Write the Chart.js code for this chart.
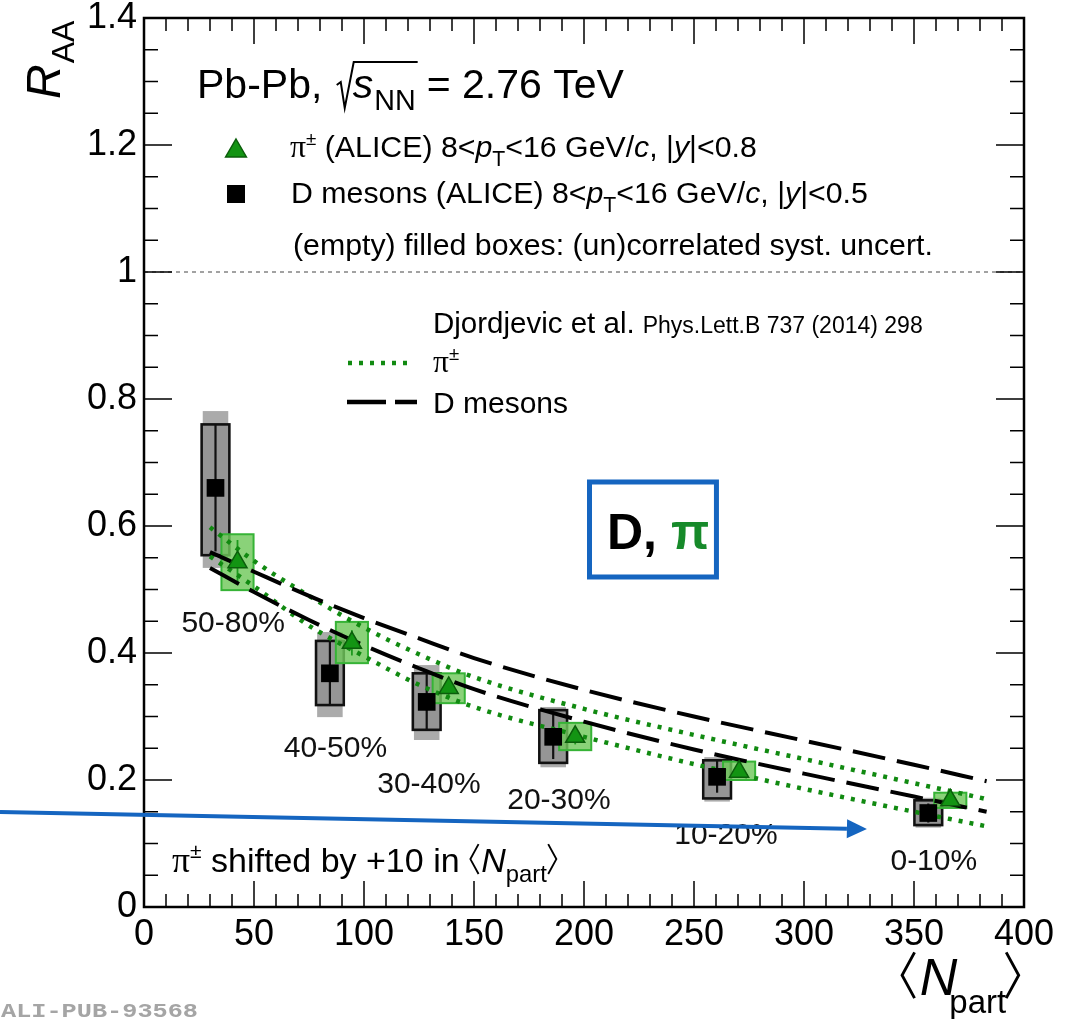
<!DOCTYPE html>
<html><head><meta charset="utf-8">
<style>html,body{margin:0;padding:0;background:#fff}canvas{display:block}</style>
<script src="https://cdn.jsdelivr.net/npm/chart.js@4.4.1/dist/chart.umd.min.js"></script>
</head><body>
<canvas id="c" width="1074" height="1019" style="width:1074px;height:1019px"></canvas>
<script>
// ---------------- data ----------------
const centralityLabels = ['50-80%', '40-50%', '30-40%', '20-30%', '10-20%', '0-10%'];
const dNpart      = [32.5, 84.5, 128.5, 186, 260.5, 356.5];
const dRaa        = [0.660, 0.368, 0.323, 0.268, 0.205, 0.148];
const dStatErr    = [0.100, 0.050, 0.045, 0.035, 0.025, 0.015];
const dCorrLow    = [0.554, 0.318, 0.279, 0.227, 0.171, 0.129];
const dCorrHigh   = [0.760, 0.419, 0.368, 0.310, 0.231, 0.168];
const dUncorrLow  = [0.534, 0.299, 0.263, 0.220, 0.166, 0.125];
const dUncorrHigh = [0.781, 0.433, 0.381, 0.315, 0.236, 0.172];
const piNpart     = [42.5, 94.5, 138.5, 196, 270.5, 366.5];   // shifted by +10
const piRaa       = [0.543, 0.416, 0.345, 0.268, 0.213, 0.168];
const piStatErr   = [0.035, 0.020, 0.015, 0.012, 0.010, 0.008];
const piSystLow   = [0.499, 0.384, 0.321, 0.247, 0.200, 0.156];
const piSystHigh  = [0.587, 0.449, 0.368, 0.290, 0.229, 0.180];
const theoryNpart = [30, 50, 75, 100, 125, 150, 200, 250, 300, 350, 383];
const dTheoryHigh = [0.559, 0.528, 0.490, 0.455, 0.423, 0.392, 0.342, 0.300, 0.262, 0.224, 0.198];
const dTheoryLow  = [0.534, 0.496, 0.452, 0.412, 0.376, 0.343, 0.292, 0.248, 0.210, 0.174, 0.150];
const piTheoryHigh= [0.598, 0.545, 0.490, 0.440, 0.398, 0.362, 0.312, 0.271, 0.233, 0.195, 0.170];
const piTheoryLow = [0.552, 0.505, 0.443, 0.395, 0.350, 0.315, 0.268, 0.225, 0.186, 0.150, 0.127];
const xTickValues = [0, 50, 100, 150, 200, 250, 300, 350, 400];
const xTickLabels = ['0', '50', '100', '150', '200', '250', '300', '350', '400'];
const yTickValues = [0, 0.2, 0.4, 0.6, 0.8, 1.0, 1.2, 1.4];
const yTickLabels = ['0', '0.2', '0.4', '0.6', '0.8', '1', '1.2', '1.4'];

// ---------------- styling helpers ----------------
const SANS = '"Liberation Sans", Arial, Helvetica, sans-serif';
const SERIF = '"Liberation Serif", "Times New Roman", serif';
const GREEN_DOT = '#118a11';
const BLUE = '#1565c0';

function xy(xs, ys) { return xs.map((x, i) => ({ x: x, y: ys[i] })); }

function drawBracket(ctx, x, base, size, dir) {
  const w = size * 0.28, top = base - size * 0.82, bot = base + size * 0.06, mid = (top + bot) / 2;
  ctx.save();
  ctx.strokeStyle = '#000'; ctx.lineWidth = Math.max(1.6, size * 0.055);
  ctx.beginPath();
  if (dir < 0) { ctx.moveTo(x + w, top); ctx.lineTo(x + size*0.04, mid); ctx.lineTo(x + w, bot); }
  else { ctx.moveTo(x + size*0.04, top); ctx.lineTo(x + w, mid); ctx.lineTo(x + size*0.04, bot); }
  ctx.stroke(); ctx.restore();
  return x + w + size * 0.08;
}

// segs: {t, i:italic, b:bold, sub, sup, serif, c:color, br:'l'|'r', s:scale, dx}
function rich(ctx, x, y, segs, size, color) {
  let cx = x;
  for (const s of segs) {
    if (s.dx) cx += s.dx;
    let fs = size * (s.s || 1), dy = 0;
    if (s.sub) { fs = size * 0.7; dy = size * 0.3; }
    if (s.sup) { fs = size * 0.62; dy = -size * 0.4; }
    if (s.br) { cx = drawBracket(ctx, cx, y, fs, s.br === 'l' ? -1 : 1); continue; }
    ctx.font = (s.i ? 'italic ' : '') + (s.b ? 'bold ' : '') + fs + 'px ' + (s.serif ? SERIF : SANS);
    ctx.fillStyle = s.c || color || '#000';
    ctx.textBaseline = 'alphabetic';
    ctx.textAlign = 'left';
    ctx.fillText(s.t, cx, y + dy);
    cx += ctx.measureText(s.t).width;
  }
  return cx;
}

function drawTriangle(ctx, x, y, r, fill, stroke) {
  ctx.beginPath();
  ctx.moveTo(x, y - r);
  ctx.lineTo(x + r * 0.866, y + r * 0.5);
  ctx.lineTo(x - r * 0.866, y + r * 0.5);
  ctx.closePath();
  ctx.fillStyle = fill; ctx.fill();
  ctx.strokeStyle = stroke; ctx.lineWidth = 1.5; ctx.stroke();
}

// ---------------- plugins ----------------
const boxesPlugin = {
  id: 'boxes',
  beforeDatasetsDraw(chart) {
    const ctx = chart.ctx, X = chart.scales.x, Y = chart.scales.y;
    const hwD = 6.3, hwDu = 5.8, hwPi = 7.3;
    ctx.save();
    // reference line at 1
    ctx.strokeStyle = '#8c8c8c'; ctx.lineWidth = 1.6; ctx.setLineDash([4, 4]);
    ctx.beginPath(); ctx.moveTo(chart.chartArea.left, Y.getPixelForValue(1)); ctx.lineTo(chart.chartArea.right, Y.getPixelForValue(1)); ctx.stroke();
    ctx.setLineDash([]);
    // D meson boxes
    dNpart.forEach((n, i) => {
      const xl = X.getPixelForValue(n - hwDu), xr = X.getPixelForValue(n + hwDu);
      const yt = Y.getPixelForValue(dUncorrHigh[i]), yb = Y.getPixelForValue(dUncorrLow[i]);
      ctx.fillStyle = '#ababab'; ctx.fillRect(xl, yt, xr - xl, yb - yt);
      const cl = X.getPixelForValue(n - hwD), cr = X.getPixelForValue(n + hwD);
      const ct = Y.getPixelForValue(dCorrHigh[i]), cb = Y.getPixelForValue(dCorrLow[i]);
      ctx.fillStyle = 'rgba(110,110,110,0.35)'; ctx.fillRect(cl, ct, cr - cl, cb - ct);
      ctx.strokeStyle = '#111'; ctx.lineWidth = 2.6; ctx.strokeRect(cl, ct, cr - cl, cb - ct);
      const cx = X.getPixelForValue(n);
      ctx.lineWidth = 2.2; ctx.beginPath();
      ctx.moveTo(cx, Y.getPixelForValue(dRaa[i] + dStatErr[i])); ctx.lineTo(cx, Y.getPixelForValue(dRaa[i] - dStatErr[i])); ctx.stroke();
    });
    // pion boxes
    piNpart.forEach((n, i) => {
      const xl = X.getPixelForValue(n - hwPi), xr = X.getPixelForValue(n + hwPi);
      const yt = Y.getPixelForValue(piSystHigh[i]), yb = Y.getPixelForValue(piSystLow[i]);
      ctx.fillStyle = 'rgba(112,200,92,0.82)'; ctx.fillRect(xl, yt, xr - xl, yb - yt);
      ctx.strokeStyle = '#36b336'; ctx.lineWidth = 2; ctx.strokeRect(xl, yt, xr - xl, yb - yt);
      const cx = X.getPixelForValue(n);
      ctx.strokeStyle = '#1e9a1e'; ctx.lineWidth = 1.8; ctx.beginPath();
      ctx.moveTo(cx, Y.getPixelForValue(piRaa[i] + piStatErr[i])); ctx.lineTo(cx, Y.getPixelForValue(piRaa[i] - piStatErr[i])); ctx.stroke();
    });
    ctx.restore();
  }
};

const decorPlugin = {
  id: 'decor',
  afterDraw(chart) {
    const ctx = chart.ctx, X = chart.scales.x, Y = chart.scales.y;
    const { left, right, top, bottom } = chart.chartArea;
    ctx.save();
    // ticks (inward, all four sides)
    ctx.strokeStyle = '#000'; ctx.lineWidth = 1.5;
    ctx.beginPath();
    for (let v = 0; v <= 400; v += 10) {
      const px = X.getPixelForValue(v), L = v % 50 === 0 ? 26 : 13;
      ctx.moveTo(px, bottom); ctx.lineTo(px, bottom - L);
      ctx.moveTo(px, top); ctx.lineTo(px, top + L);
    }
    for (let k = 0; k <= 28; k++) {
      const py = Y.getPixelForValue(k * 0.05), L = k % 4 === 0 ? 28 : 14;
      ctx.moveTo(left, py); ctx.lineTo(left + L, py);
      ctx.moveTo(right, py); ctx.lineTo(right - L, py);
    }
    ctx.stroke();
    ctx.lineWidth = 2.5; ctx.strokeRect(left, top, right - left, bottom - top);

    // title
    const TS = 41, B = 98;
    let cx = rich(ctx, 197, B, [{ t: 'Pb-Pb, ' }], TS);
    const x0 = cx + 3;
    ctx.font = 'italic ' + TS + 'px ' + SANS; const ws = ctx.measureText('s').width;
    ctx.font = (TS * 0.7) + 'px ' + SANS; const wn = ctx.measureText('NN').width;
    const after = x0 + 17 + ws + 1 + wn + 1;
    ctx.strokeStyle = '#000'; ctx.lineWidth = 2;
    ctx.beginPath();
    ctx.moveTo(x0, B - 13); ctx.lineTo(x0 + 4, B - 16); ctx.lineTo(x0 + 8, B + 10); ctx.lineTo(x0 + 17, B - 36); ctx.lineTo(after, B - 36);
    ctx.stroke();
    cx = rich(ctx, x0 + 16, B, [{ t: 's', i: 1 }, { t: 'NN', sub: 1, dx: 1 }], TS);
    rich(ctx, cx + 11, B, [{ t: '= 2.76 TeV' }], TS);

    // legend markers
    drawTriangle(ctx, 236, 151, 12, '#139413', '#0b5e0b');
    ctx.fillStyle = '#000'; ctx.fillRect(227, 185, 18, 18);
    const LS = 30.3;
    rich(ctx, 290, 157, [{ t: 'π', serif: 1, s: 1.05 }, { t: '±', sup: 1 }, { t: ' (ALICE) 8<' }, { t: 'p', i: 1 }, { t: 'T', sub: 1 }, { t: '<16 GeV/' }, { t: 'c', i: 1 }, { t: ', |' }, { t: 'y', i: 1 }, { t: '|<0.8' }], LS);
    rich(ctx, 291, 203, [{ t: 'D mesons (ALICE) 8<' }, { t: 'p', i: 1 }, { t: 'T', sub: 1 }, { t: '<16 GeV/' }, { t: 'c', i: 1 }, { t: ', |' }, { t: 'y', i: 1 }, { t: '|<0.5' }], LS);
    rich(ctx, 293, 255, [{ t: '(empty) filled boxes: (un)correlated syst. uncert.' }], LS);

    // model legend
    cx = rich(ctx, 433, 333, [{ t: 'Djordjevic et al.' }], 29.5);
    rich(ctx, cx + 8, 333, [{ t: 'Phys.Lett.B 737 (2014) 298' }], 23);
    ctx.lineWidth = 4.5; ctx.lineCap = 'butt';
    ctx.strokeStyle = GREEN_DOT; ctx.setLineDash([4, 7]);
    ctx.beginPath(); ctx.moveTo(348, 363); ctx.lineTo(414, 363); ctx.stroke();
    ctx.strokeStyle = '#000'; ctx.setLineDash([39, 9]);
    ctx.beginPath(); ctx.moveTo(347, 402); ctx.lineTo(417, 402); ctx.stroke();
    ctx.setLineDash([]);
    rich(ctx, 433, 372, [{ t: 'π', serif: 1, s: 1.05 }, { t: '±', sup: 1 }], 30);
    rich(ctx, 433, 413, [{ t: 'D mesons' }], 30);

    // centrality labels (anchors in data units: centre x, baseline y)
    const labelAnchors = [[40.5, 0.433], [87.0, 0.237], [129.5, 0.180], [188.6, 0.155], [264.5, 0.099], [359.0, 0.058]];
    ctx.font = '30px ' + SANS; ctx.fillStyle = '#111'; ctx.textAlign = 'center'; ctx.textBaseline = 'alphabetic';
    centralityLabels.forEach((t, i) => {
      ctx.fillText(t, X.getPixelForValue(labelAnchors[i][0]), Y.getPixelForValue(labelAnchors[i][1]));
    });
    ctx.textAlign = 'left';

    // shift note
    rich(ctx, 172, 872, [{ t: 'π', serif: 1, s: 1.05 }, { t: '±', sup: 1 }, { t: ' shifted by +10 in ' }, { br: 'l' }, { t: 'N', i: 1 }, { t: 'part', sub: 1 }, { br: 'r' }], 34);

    // axis titles
    ctx.save();
    ctx.translate(60, 99); ctx.rotate(-Math.PI / 2);
    rich(ctx, 0, 0, [{ t: 'R', i: 1 }], 48);
    ctx.font = 'italic 48px ' + SANS; const wr = ctx.measureText('R').width;
    rich(ctx, wr + 1, 14, [{ t: 'AA' }], 32);
    ctx.restore();
    let tx = drawBracket(ctx, 900, 995, 52, -1);
    tx = rich(ctx, tx + 1, 995, [{ t: 'N', i: 1 }], 52);
    tx = rich(ctx, tx - 8, 1013, [{ t: 'part' }], 33);
    drawBracket(ctx, tx - 2, 995, 52, 1);

    // publication id
    ctx.save();
    ctx.font = 'bold 21px "Liberation Mono", "DejaVu Sans Mono", monospace';
    ctx.fillStyle = '#a5a5a5';
    const idw = ctx.measureText('ALI-PUB-93568').width;
    ctx.translate(1, 1017); ctx.scale(197 / idw, 1);
    ctx.fillText('ALI-PUB-93568', 0, 0);
    ctx.restore();

    // blue annotation box
    const bx1 = X.getPixelForValue(202.5), bx2 = X.getPixelForValue(260.2);
    const by1 = Y.getPixelForValue(0.6693), by2 = Y.getPixelForValue(0.5197);
    ctx.strokeStyle = BLUE; ctx.lineWidth = 5; ctx.strokeRect(bx1, by1, bx2 - bx1, by2 - by1);
    cx = rich(ctx, 607, 549, [{ t: 'D, ', b: 1 }], 50);
    rich(ctx, cx, 549, [{ t: 'π', b: 1, c: '#178a2a' }], 50);

    // blue arrow
    const ax1 = X.getPixelForValue(-65.45), ay1 = Y.getPixelForValue(0.1496);
    const ax2 = X.getPixelForValue(328.6), ay2 = Y.getPixelForValue(0.1228);
    const ang = Math.atan2(ay2 - ay1, ax2 - ax1), hl = 20, hw = 9.5;
    const bxp = ax2 - hl * Math.cos(ang), byp = ay2 - hl * Math.sin(ang);
    ctx.strokeStyle = BLUE; ctx.lineWidth = 4;
    ctx.beginPath(); ctx.moveTo(ax1, ay1); ctx.lineTo(bxp, byp); ctx.stroke();
    ctx.fillStyle = BLUE; ctx.beginPath();
    ctx.moveTo(ax2, ay2);
    ctx.lineTo(bxp - hw * Math.sin(ang), byp + hw * Math.cos(ang));
    ctx.lineTo(bxp + hw * Math.sin(ang), byp - hw * Math.cos(ang));
    ctx.closePath(); ctx.fill();
    ctx.restore();
  }
};

// ---------------- chart ----------------
const theoryStyle = (color, dash, w) => ({
  showLine: true, borderColor: color, borderWidth: w, borderDash: dash, borderCapStyle: 'butt',
  pointRadius: 0, cubicInterpolationMode: 'monotone', fill: false, order: 2
});

new Chart(document.getElementById('c').getContext('2d'), {
  type: 'scatter',
  data: {
    datasets: [
      Object.assign({ label: 'D theory high', data: xy(theoryNpart, dTheoryHigh) }, theoryStyle('#000', [33, 12], 4)),
      Object.assign({ label: 'D theory low', data: xy(theoryNpart, dTheoryLow) }, theoryStyle('#000', [33, 12], 4)),
      Object.assign({ label: 'pi theory high', data: xy(theoryNpart, piTheoryHigh) }, theoryStyle(GREEN_DOT, [4, 7], 4.5)),
      Object.assign({ label: 'pi theory low', data: xy(theoryNpart, piTheoryLow) }, theoryStyle(GREEN_DOT, [4, 7], 4.5)),
      { label: 'D mesons', data: xy(dNpart, dRaa), pointStyle: 'rect', pointRadius: 12.5, backgroundColor: '#000', borderColor: '#000', borderWidth: 0, order: 0 },
      { label: 'pions', data: xy(piNpart, piRaa), pointStyle: 'triangle', pointRadius: 11, backgroundColor: '#139413', borderColor: '#0b5e0b', borderWidth: 1.5, order: 0 }
    ]
  },
  options: {
    responsive: false, animation: false, events: [],
    layout: { padding: { top: 18, right: 50, left: 0, bottom: 0 } },
    plugins: { legend: { display: false }, tooltip: { enabled: false } },
    scales: {
      x: {
        type: 'linear', min: 0, max: 400,
        grid: { display: false, drawTicks: false }, border: { display: false },
        afterBuildTicks: s => { s.ticks = xTickValues.map(v => ({ value: v })); },
        ticks: { callback: (v, i) => xTickLabels[i], color: '#000', font: { family: SANS, size: 36 }, padding: 6, maxRotation: 0, autoSkip: false },
        afterFit: s => { s.height = 112; s.paddingLeft = 0; s.paddingRight = 0; }
      },
      y: {
        type: 'linear', min: 0, max: 1.4,
        grid: { display: false, drawTicks: false }, border: { display: false },
        afterBuildTicks: s => { s.ticks = yTickValues.map(v => ({ value: v })); },
        ticks: { callback: (v, i) => yTickLabels[i], color: '#000', font: { family: SANS, size: 36 }, padding: 7, autoSkip: false },
        afterFit: s => { s.width = 144; s.paddingTop = 0; s.paddingBottom = 0; }
      }
    }
  },
  plugins: [boxesPlugin, decorPlugin]
});
</script>
</body></html>
